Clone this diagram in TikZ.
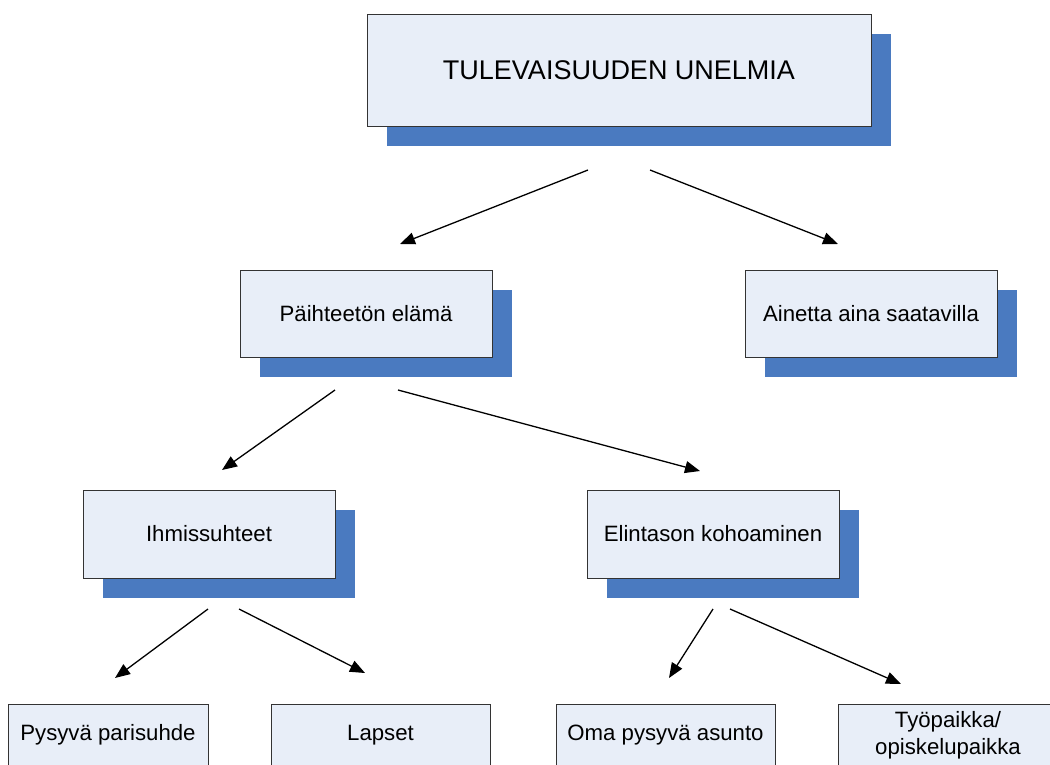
\documentclass[tikz,border=0pt]{standalone}
\usepackage{fontspec}
\setmainfont{Liberation Sans}
\usetikzlibrary{arrows.meta,shadows}
\definecolor{boxfill}{HTML}{E8EEF8}
\definecolor{shadowblue}{HTML}{4A7AC0}
\definecolor{boxline}{HTML}{333333}
\begin{document}
\begin{tikzpicture}[x=1pt,y=-1pt,
  box/.style={draw=boxline, line width=0.9pt, fill=boxfill, rectangle, inner sep=0pt,
    align=center, font=\fontsize{22.2}{26.5}\selectfont,
    general shadow={fill=shadowblue, shadow xshift=19.5pt, shadow yshift=-19.5pt}},
  plainbox/.style={draw=boxline, line width=0.9pt, fill=boxfill, rectangle, inner sep=0pt,
    align=center, font=\fontsize{22.2}{26.5}\selectfont},
  arr/.style={line width=1.3pt, -{Triangle[length=15pt,width=12pt]}}]
\useasboundingbox (0,0) rectangle (1050,764);
\clip (0,0) rectangle (1050,764);
% top
\node[box, minimum width=504pt, minimum height=112pt, font=\fontsize{27}{32}\selectfont] (top) at (619,70) {TULEVAISUUDEN UNELMIA};
% level 2
\node[box, minimum width=252pt, minimum height=87pt] (paih) at (366,314) {Päihteetön elämä};
\node[box, minimum width=252pt, minimum height=87pt] (aine) at (871,314) {Ainetta aina saatavilla};
% level 3
\node[box, minimum width=252pt, minimum height=88pt] (ihm) at (209,534) {Ihmissuhteet};
\node[box, minimum width=252pt, minimum height=88pt] (elin) at (713,534) {Elintason kohoaminen};
% level 4
\node[plainbox, minimum width=200pt, minimum height=62pt] (pys) at (108,735) {Pysyvä parisuhde};
\node[plainbox, minimum width=219pt, minimum height=62pt] (lap) at (380.5,735) {Lapset};
\node[plainbox, minimum width=219pt, minimum height=62pt] (oma) at (665.5,735) {Oma pysyvä asunto};
\node[plainbox, minimum width=220pt, minimum height=62pt] (tyo) at (948,735) {Työpaikka/\\opiskelupaikka};
% arrow endpoints
\coordinate (a1s) at (588,170); \coordinate (a1e) at (400,244);
\coordinate (a2s) at (650,170); \coordinate (a2e) at (838,244);
\coordinate (a3s) at (335,390); \coordinate (a3e) at (222,470);
\coordinate (a4s) at (398,390); \coordinate (a4e) at (700,471);
\coordinate (a5s) at (208,609); \coordinate (a5e) at (115,678);
\coordinate (a6s) at (239,609); \coordinate (a6e) at (365,673);
\coordinate (a7s) at (713,609); \coordinate (a7e) at (669,678);
\coordinate (a8s) at (730,609); \coordinate (a8e) at (901,684);
\draw[arr] (a1s) -- (a1e);
\draw[arr] (a2s) -- (a2e);
\draw[arr] (a3s) -- (a3e);
\draw[arr] (a4s) -- (a4e);
\draw[arr] (a5s) -- (a5e);
\draw[arr] (a6s) -- (a6e);
\draw[arr] (a7s) -- (a7e);
\draw[arr] (a8s) -- (a8e);
\end{tikzpicture}
\end{document}
